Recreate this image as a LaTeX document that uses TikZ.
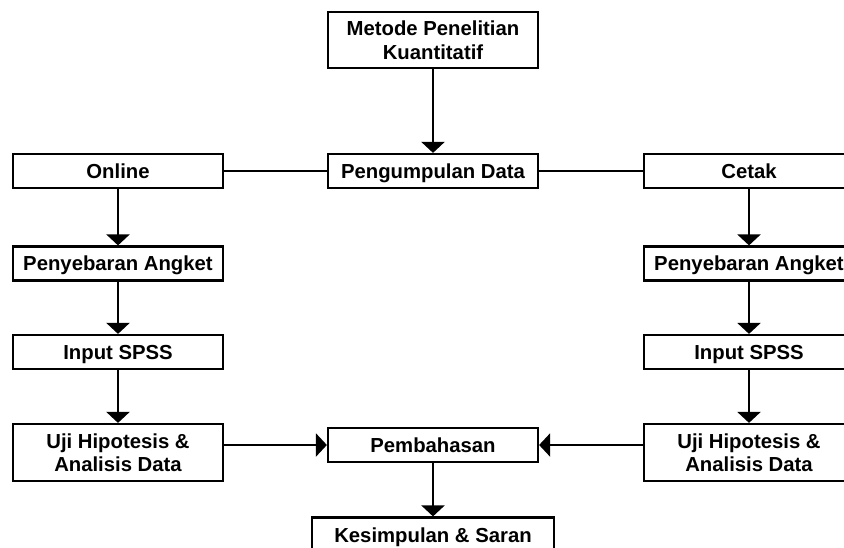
\documentclass[tikz,border=0pt]{standalone}
\usepackage{fontspec}
\setmainfont{Liberation Sans}
\usetikzlibrary{arrows.meta}
\begin{document}
\begin{tikzpicture}[x=1pt,y=-1pt,
 box/.style={draw=black, line width=2.2pt, fill=white, minimum width=210pt, minimum height=34pt, inner sep=0pt, font=\bfseries\fontsize{20.3}{23.5}\selectfont, align=center},
 one/.style={text height=14.5pt, text depth=0pt},
 arr/.style={line width=2.3pt, -{Triangle[width=23pt,length=11pt]}},
 ln/.style={line width=2.3pt}]
\useasboundingbox (0,0) rectangle (844,547);
\clip (0,0) rectangle (844,547);
\node[box, minimum height=56pt] (metode) at (433,40) {Metode Penelitian\\Kuantitatif};
\node[box, one] (peng) at (433,171) {Pengumpulan Data};
\node[box, one] (online) at (118,171) {Online};
\node[box, one] (cetak) at (749,171) {Cetak};
\node[box, one] (pa1) at (118,263.5) {Penyebaran Angket};
\node[box, one] (pa2) at (749,263.5) {Penyebaran Angket};
\node[box, one] (in1) at (118,352) {Input SPSS};
\node[box, one] (in2) at (749,352) {Input SPSS};
\node[box, minimum height=57pt] (uji1) at (118,452.5) {Uji Hipotesis \&\\Analisis Data};
\node[box, minimum height=57pt] (uji2) at (749,452.5) {Uji Hipotesis \&\\Analisis Data};
\node[box, one] (pemb) at (433,445) {Pembahasan};
\node[box, one, minimum width=242pt, minimum height=35pt] (kes) at (433,535) {Kesimpulan \& Saran};
\draw[arr] (metode.south) -- (peng.north);
\draw[ln] (online.east) -- (peng.west);
\draw[ln] (peng.east) -- (cetak.west);
\draw[arr] (online.south) -- (pa1.north);
\draw[arr] (cetak.south) -- (pa2.north);
\draw[arr] (pa1.south) -- (in1.north);
\draw[arr] (pa2.south) -- (in2.north);
\draw[arr] (in1.south) -- (uji1.north);
\draw[arr] (in2.south) -- (uji2.north);
\draw[arr] (uji1.east |- pemb.west) -- (pemb.west);
\draw[arr] (uji2.west |- pemb.east) -- (pemb.east);
\draw[arr] (pemb.south) -- (kes.north);
\end{tikzpicture}
\end{document}
